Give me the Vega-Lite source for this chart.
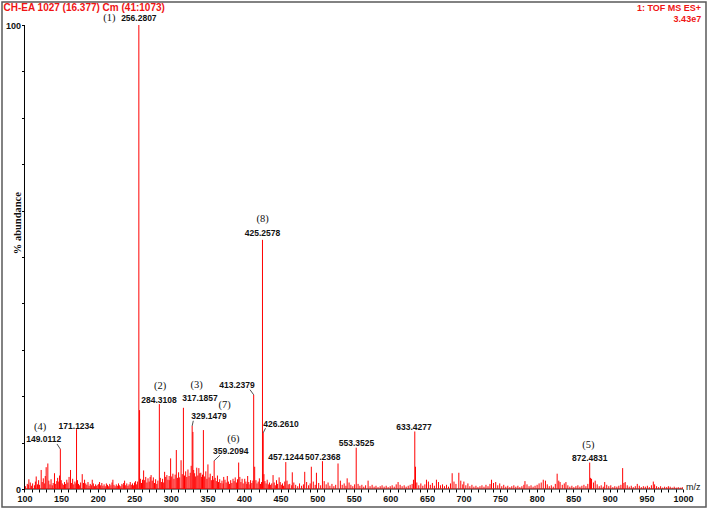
{
 "$schema": "https://vega.github.io/schema/vega-lite/v6.json",
 "width": 704, "height": 505,
 "autosize": {"type": "none"},
 "padding": {"left": 2, "top": 2, "right": 2, "bottom": 2},
 "background": "white",
 "config": {"view": {"stroke": "#5a5a5a", "strokeWidth": 1.5}},
 "datasets": {
  "axisline": [{"m":100,"a":0,"m2":1000,"a2":0},{"m":100,"a":0,"m2":100,"a2":100}],
  "peaks": [
   {"m":256.2807,"a":100},{"m":257.28,"a":17},{"m":425.2578,"a":53.7},{"m":413.2379,"a":20.3},{"m":284.3108,"a":18.3},{"m":317.1857,"a":17.5},{"m":329.1479,"a":13.6},{"m":330.15,"a":12.3},{"m":344.5,"a":12.7},{"m":171.1234,"a":12.9},{"m":633.4277,"a":12.4},{"m":426.261,"a":12.1},{"m":553.3525,"a":8.9},{"m":149.0112,"a":8.6},{"m":307.5,"a":8.4},{"m":299.7,"a":6.6},{"m":314.0,"a":6.2},{"m":359.2094,"a":6.1},{"m":507.2368,"a":6.0},{"m":457.1244,"a":5.8},{"m":392.7,"a":5.7},{"m":872.4831,"a":5.7},{"m":131.9,"a":5.5},{"m":528.5,"a":5.5},{"m":350.7,"a":5.3},{"m":634.4,"a":4.8},{"m":414.6,"a":4.8},{"m":129.6,"a":4.7},{"m":917.5,"a":4.5},{"m":492.0,"a":4.8},{"m":262.8,"a":4.0},{"m":122.8,"a":4.1},{"m":162.9,"a":4.1},{"m":466.0,"a":3.6},{"m":483.0,"a":3.7},{"m":499.0,"a":3.5},{"m":291.5,"a":3.7},{"m":693.6,"a":3.5},{"m":684.5,"a":3.4},{"m":141.0,"a":3.4},{"m":332.5,"a":3.4},{"m":828.0,"a":3.3},{"m":178.9,"a":3.2},{"m":273.0,"a":3.0},{"m":439.7,"a":3.0},{"m":448.0,"a":2.5},{"m":541.0,"a":2.3},{"m":116.0,"a":2.7},{"m":106.0,"a":2.1},{"m":192.6,"a":2.0},{"m":220.8,"a":2.0},{"m":202.6,"a":1.5},{"m":236.8,"a":1.8},{"m":251.8,"a":1.7},{"m":569.6,"a":1.8},{"m":649.4,"a":2.0},{"m":663.0,"a":2.0},{"m":700.5,"a":1.6},{"m":738.3,"a":2.0},{"m":744.0,"a":1.5},{"m":784.0,"a":1.7},{"m":809.0,"a":2.0},{"m":812.0,"a":1.8},{"m":832.0,"a":1.5},{"m":840.0,"a":1.5},{"m":875.0,"a":2.2},{"m":880.0,"a":1.8},{"m":893.0,"a":1.5},{"m":921.0,"a":1.5},{"m":937.5,"a":1.1},{"m":959.4,"a":1.6},{"m":980.0,"a":0.6},{"m":338.3,"a":4.5},{"m":341.0,"a":3.5},{"m":372.3,"a":2.6},{"m":377.2,"a":2.8},{"m":385.0,"a":2.2},{"m":388.0,"a":2.5},{"m":401.0,"a":2.2},{"m":405.0,"a":2.8},{"m":409.0,"a":1.9},{"m":421.0,"a":2.3},{"m":427.26,"a":3.2},
   {"m":101.3,"a":0.6},{"m":103.8,"a":1.1},{"m":105.2,"a":0.9},{"m":107.9,"a":1.4},{"m":109.4,"a":0.7},{"m":111.1,"a":1.2},{"m":113.6,"a":0.8},{"m":114.9,"a":1.6},{"m":117.8,"a":1.0},{"m":119.3,"a":1.9},{"m":120.6,"a":0.9},{"m":124.2,"a":1.5},{"m":125.7,"a":2.3},{"m":127.1,"a":1.2},{"m":128.4,"a":2.8},{"m":133.2,"a":1.8},{"m":134.8,"a":1.0},{"m":136.3,"a":2.1},{"m":137.9,"a":0.8},{"m":139.2,"a":1.3},{"m":142.6,"a":1.1},{"m":144.1,"a":1.7},{"m":145.3,"a":2.4},{"m":146.8,"a":1.6},{"m":147.9,"a":2.9},{"m":150.2,"a":1.9},{"m":151.6,"a":1.2},{"m":153.1,"a":0.9},{"m":154.7,"a":1.5},{"m":156.2,"a":1.1},{"m":157.8,"a":2.0},{"m":159.3,"a":1.4},{"m":160.9,"a":2.6},{"m":164.4,"a":1.3},{"m":165.8,"a":2.2},{"m":167.3,"a":1.0},{"m":168.9,"a":1.6},{"m":170.2,"a":1.2},{"m":172.4,"a":1.9},{"m":173.8,"a":1.1},{"m":175.3,"a":0.8},{"m":176.7,"a":1.4},{"m":180.6,"a":1.3},{"m":182.1,"a":2.0},{"m":183.7,"a":1.2},{"m":185.2,"a":0.9},{"m":186.8,"a":1.5},{"m":188.3,"a":0.7},{"m":189.9,"a":1.1},{"m":191.4,"a":0.8},{"m":194.1,"a":1.2},{"m":195.6,"a":0.6},{"m":197.2,"a":1.0},{"m":198.7,"a":0.7},{"m":200.3,"a":0.9},{"m":201.5,"a":1.1},{"m":204.1,"a":0.8},{"m":205.7,"a":1.3},{"m":207.2,"a":0.7},{"m":208.8,"a":1.0},{"m":210.3,"a":0.6},{"m":211.9,"a":1.2},{"m":213.4,"a":0.9},{"m":215.0,"a":0.6},{"m":216.5,"a":1.1},{"m":218.1,"a":0.8},{"m":219.6,"a":1.4},{"m":222.3,"a":0.9},{"m":223.8,"a":0.6},{"m":225.4,"a":1.0},{"m":226.9,"a":0.7},{"m":228.5,"a":1.2},{"m":230.0,"a":0.8},{"m":231.6,"a":0.6},{"m":233.1,"a":1.1},{"m":234.7,"a":0.9},{"m":235.6,"a":1.3},{"m":238.3,"a":0.8},{"m":239.8,"a":1.2},{"m":241.4,"a":0.7},{"m":242.9,"a":1.0},{"m":244.5,"a":1.5},{"m":246.0,"a":0.9},{"m":247.6,"a":1.2},{"m":249.1,"a":0.8},{"m":250.4,"a":1.4},{"m":253.3,"a":1.0},{"m":254.6,"a":1.6},{"m":258.4,"a":2.2},{"m":259.9,"a":1.3},{"m":261.3,"a":2.0},{"m":264.2,"a":1.9},{"m":265.7,"a":2.6},{"m":267.3,"a":1.4},{"m":268.8,"a":2.3},{"m":270.4,"a":1.6},{"m":271.7,"a":2.6},{"m":274.6,"a":1.8},{"m":276.1,"a":2.5},{"m":277.7,"a":1.3},{"m":279.2,"a":2.1},{"m":280.8,"a":1.1},{"m":282.3,"a":1.8},{"m":285.6,"a":2.4},{"m":287.1,"a":1.5},{"m":288.7,"a":2.2},{"m":290.2,"a":1.4},{"m":293.0,"a":2.6},{"m":294.6,"a":3.0},{"m":296.1,"a":2.0},{"m":297.7,"a":2.8},{"m":298.6,"a":1.9},{"m":301.2,"a":2.7},{"m":302.8,"a":3.3},{"m":304.3,"a":2.2},{"m":305.9,"a":3.1},{"m":309.0,"a":2.4},{"m":310.6,"a":3.6},{"m":312.1,"a":2.5},{"m":315.6,"a":3.2},{"m":318.7,"a":2.9},{"m":320.3,"a":3.8},{"m":321.8,"a":2.6},{"m":323.4,"a":4.2},{"m":324.9,"a":2.8},{"m":326.5,"a":3.5},{"m":327.8,"a":5.0},{"m":331.2,"a":4.1},{"m":333.9,"a":2.7},{"m":335.4,"a":4.6},{"m":336.9,"a":2.9},{"m":339.6,"a":3.4},{"m":342.1,"a":2.6},{"m":343.3,"a":3.1},{"m":346.2,"a":2.7},{"m":347.8,"a":3.8},{"m":349.3,"a":2.2},{"m":352.3,"a":2.5},{"m":353.8,"a":3.3},{"m":355.4,"a":1.9},{"m":356.9,"a":2.8},{"m":358.1,"a":2.0},{"m":360.6,"a":2.4},{"m":362.1,"a":1.7},{"m":363.7,"a":2.9},{"m":365.2,"a":1.5},{"m":366.8,"a":2.1},{"m":368.3,"a":1.3},{"m":369.9,"a":1.8},{"m":371.4,"a":1.2},{"m":374.0,"a":2.0},{"m":375.6,"a":1.4},{"m":378.7,"a":1.6},{"m":380.3,"a":1.1},{"m":381.8,"a":1.9},{"m":383.4,"a":1.3},{"m":386.5,"a":1.7},{"m":389.6,"a":1.4},{"m":391.1,"a":2.1},{"m":394.3,"a":2.6},{"m":395.8,"a":1.5},{"m":397.4,"a":2.2},{"m":398.9,"a":1.2},{"m":402.6,"a":1.6},{"m":403.8,"a":1.1},{"m":406.5,"a":1.5},{"m":408.1,"a":1.0},{"m":410.7,"a":1.3},{"m":412.2,"a":1.8},{"m":416.3,"a":1.9},{"m":417.8,"a":1.2},{"m":419.4,"a":1.6},{"m":422.5,"a":1.1},{"m":424.0,"a":1.5},{"m":428.6,"a":1.7},{"m":430.2,"a":1.2},{"m":431.7,"a":2.0},{"m":433.3,"a":1.0},{"m":434.8,"a":1.4},{"m":436.4,"a":0.9},{"m":437.9,"a":1.2},{"m":441.3,"a":1.4},{"m":442.8,"a":0.8},{"m":444.4,"a":1.9},{"m":445.9,"a":1.1},{"m":449.5,"a":1.5},{"m":451.0,"a":0.9},{"m":452.6,"a":1.2},{"m":454.1,"a":0.7},{"m":455.7,"a":1.6},{"m":458.8,"a":1.8},{"m":460.4,"a":1.0},
   {"m":462.5,"a":1.1},{"m":465.2,"a":0.8},{"m":468.1,"a":1.4},{"m":470.6,"a":0.9},{"m":473.4,"a":0.6},{"m":475.9,"a":1.2},{"m":478.7,"a":0.7},{"m":481.2,"a":1.0},{"m":485.6,"a":1.5},{"m":488.3,"a":0.8},{"m":490.4,"a":1.2},{"m":494.7,"a":1.6},{"m":497.3,"a":0.9},{"m":502.1,"a":1.3},{"m":504.8,"a":0.8},{"m":509.6,"a":1.7},{"m":512.3,"a":1.0},{"m":514.9,"a":1.4},{"m":517.4,"a":0.7},{"m":520.2,"a":1.1},{"m":522.8,"a":0.6},{"m":525.3,"a":0.9},{"m":531.7,"a":1.8},{"m":534.2,"a":0.9},{"m":536.9,"a":1.2},{"m":539.3,"a":0.7},{"m":543.6,"a":1.4},{"m":546.1,"a":0.9},{"m":548.7,"a":0.6},{"m":551.2,"a":1.0},{"m":555.9,"a":1.1},{"m":558.4,"a":0.7},{"m":561.1,"a":0.9},{"m":563.7,"a":0.5},{"m":566.2,"a":0.8},{"m":572.3,"a":0.6},{"m":575.1,"a":0.9},{"m":577.8,"a":0.5},{"m":580.4,"a":0.7},{"m":583.2,"a":0.4},{"m":586.1,"a":0.6},{"m":588.7,"a":0.8},{"m":591.5,"a":0.5},{"m":594.3,"a":0.7},{"m":597.0,"a":0.4},{"m":599.8,"a":0.6},{"m":602.5,"a":0.8},{"m":605.3,"a":0.5},{"m":608.0,"a":1.0},{"m":610.6,"a":1.5},{"m":613.4,"a":0.9},{"m":616.1,"a":0.6},{"m":618.9,"a":0.8},{"m":621.6,"a":0.5},{"m":624.4,"a":0.7},{"m":627.1,"a":0.9},{"m":629.8,"a":1.1},{"m":631.6,"a":2.0},{"m":636.2,"a":1.4},{"m":638.9,"a":0.8},{"m":641.7,"a":1.2},{"m":644.4,"a":0.7},{"m":647.2,"a":1.0},{"m":652.0,"a":1.6},{"m":654.7,"a":0.9},{"m":657.5,"a":1.3},{"m":660.2,"a":0.7},{"m":665.8,"a":1.5},{"m":668.5,"a":0.8},{"m":671.3,"a":1.0},{"m":674.0,"a":0.6},{"m":676.8,"a":0.9},{"m":679.5,"a":0.5},{"m":682.2,"a":1.2},{"m":687.0,"a":1.6},{"m":689.7,"a":1.1},{"m":696.3,"a":1.8},{"m":699.0,"a":1.0},{"m":703.2,"a":0.8},{"m":706.0,"a":1.2},{"m":708.7,"a":0.6},{"m":711.5,"a":0.9},{"m":714.2,"a":0.5},{"m":717.0,"a":0.7},{"m":719.7,"a":0.4},{"m":722.5,"a":0.6},{"m":725.2,"a":0.8},{"m":728.0,"a":0.5},{"m":730.7,"a":0.9},{"m":733.5,"a":0.6},{"m":736.2,"a":1.1},{"m":741.0,"a":1.3},{"m":746.8,"a":0.8},{"m":749.5,"a":1.2},{"m":752.3,"a":0.6},{"m":755.0,"a":0.9},{"m":757.8,"a":0.5},{"m":760.5,"a":0.7},{"m":763.3,"a":0.4},{"m":766.0,"a":0.6},{"m":768.8,"a":0.8},{"m":771.5,"a":0.5},{"m":774.3,"a":0.7},{"m":777.0,"a":0.4},{"m":779.8,"a":0.6},{"m":782.5,"a":0.9},{"m":786.8,"a":1.0},{"m":789.6,"a":0.6},{"m":792.3,"a":0.8},{"m":795.1,"a":0.5},{"m":797.8,"a":0.7},{"m":800.6,"a":0.9},{"m":803.3,"a":1.2},{"m":806.2,"a":1.4},{"m":814.5,"a":1.0},{"m":817.2,"a":0.6},{"m":820.0,"a":0.8},{"m":822.7,"a":0.5},{"m":825.5,"a":1.1},{"m":830.2,"a":1.8},{"m":835.0,"a":0.9},{"m":837.7,"a":1.2},{"m":842.6,"a":0.8},{"m":845.3,"a":0.5},{"m":848.1,"a":0.7},{"m":850.8,"a":0.4},{"m":853.6,"a":0.6},{"m":856.3,"a":0.8},{"m":859.1,"a":0.5},{"m":861.8,"a":0.7},{"m":864.6,"a":0.9},{"m":867.3,"a":0.6},{"m":869.9,"a":1.1},{"m":873.5,"a":2.4},{"m":877.6,"a":1.4},{"m":882.7,"a":1.0},{"m":885.5,"a":0.6},{"m":888.2,"a":0.8},{"m":891.0,"a":0.5},{"m":895.8,"a":0.9},{"m":898.6,"a":0.6},{"m":901.3,"a":0.8},{"m":904.1,"a":0.4},{"m":906.8,"a":0.6},{"m":909.6,"a":0.5},{"m":912.3,"a":0.7},{"m":915.1,"a":0.9},{"m":919.2,"a":1.3},{"m":923.8,"a":0.8},{"m":926.5,"a":0.5},{"m":929.3,"a":0.7},{"m":932.0,"a":0.4},{"m":934.8,"a":0.6},{"m":940.3,"a":0.7},{"m":943.0,"a":0.4},{"m":945.8,"a":0.6},{"m":948.5,"a":0.5},{"m":951.3,"a":0.7},{"m":954.0,"a":0.4},{"m":956.8,"a":0.8},{"m":961.2,"a":1.0},{"m":963.9,"a":0.6},{"m":966.7,"a":0.4},{"m":969.4,"a":0.6},{"m":972.2,"a":0.3},{"m":974.9,"a":0.5},{"m":977.7,"a":0.4},{"m":982.5,"a":0.5},{"m":985.3,"a":0.3},{"m":988.0,"a":0.5},{"m":990.8,"a":0.3},{"m":993.5,"a":0.4},{"m":996.3,"a":0.3},{"m":999.0,"a":0.4}
  ],
  "leaders": [
   {"m":144.4,"a":9.7,"m2":149.01,"a2":8.6},
   {"m":330.7,"a":14.7,"m2":329.15,"a2":13.6},
   {"m":408.2,"a":21.4,"m2":413.24,"a2":20.3},
   {"m":429.4,"a":13.1,"m2":426.26,"a2":12.1},
   {"m":367.2,"a":7.3,"m2":359.21,"a2":6.1}
  ],
  "numlabels": [
   {"m":256.3,"a":101.51,"t":"256.2807"},
   {"m":425.3,"a":55.1,"t":"425.2578"},
   {"m":283.8,"a":19.2,"t":"284.3108"},
   {"m":339.9,"a":19.7,"t":"317.1857"},
   {"m":352.2,"a":15.7,"t":"329.1479"},
   {"m":390.4,"a":22.4,"t":"413.2379"},
   {"m":450.6,"a":14.0,"t":"426.2610"},
   {"m":126.2,"a":10.7,"t":"149.0112"},
   {"m":170.8,"a":13.6,"t":"171.1234"},
   {"m":381.8,"a":8.25,"t":"359.2094"},
   {"m":457.4,"a":6.83,"t":"457.1244"},
   {"m":507.6,"a":6.83,"t":"507.2368"},
   {"m":553.8,"a":9.85,"t":"553.3525"},
   {"m":632.3,"a":13.4,"t":"633.4277"},
   {"m":872.5,"a":6.6,"t":"872.4831"}
  ],
  "parlabels": [
   {"m":216.0,"a":101.51,"t":"(1)"},
   {"m":425.3,"a":58.2,"t":"(8)"},
   {"m":285.2,"a":22.2,"t":"(2)"},
   {"m":335.3,"a":22.4,"t":"(3)"},
   {"m":373.5,"a":18.0,"t":"(7)"},
   {"m":121.2,"a":13.4,"t":"(4)"},
   {"m":385.4,"a":10.7,"t":"(6)"},
   {"m":870.6,"a":9.48,"t":"(5)"}
  ],
  "headleft": [{"m":71.3,"a":103.77,"t":"CH-EA 1027 (16.377) Cm (41:1073)"}],
  "headright": [{"m":1024.6,"a":103.66,"t":"1: TOF MS ES+"},{"m":1024.8,"a":101.19,"t":"3.43e7"}],
  "mzlabel": [{"m":1004.1,"a":0.43,"t":"m/z"}],
  "ytitle": [{"m":91.8,"a":57.3,"t":"% abundance"}]
 },
 "encoding": {
  "x": {"field": "m", "type": "quantitative",
   "scale": {"domain": [69.25, 1031.43], "nice": false, "zero": false},
   "axis": {"orient": "bottom", "offset": -18, "domain": false, "grid": false, "title": null,
    "values": [100,110,120,130,140,150,160,170,180,190,200,210,220,230,240,250,260,270,280,290,300,310,320,330,340,350,360,370,380,390,400,410,420,430,440,450,460,470,480,490,500,510,520,530,540,550,560,570,580,590,600,610,620,630,640,650,660,670,680,690,700,710,720,730,740,750,760,770,780,790,800,810,820,830,840,850,860,870,880,890,900,910,920,930,940,950,960,970,980,990,1000],
    "format": "d",
    "labelExpr": "datum.value % 50 === 0 ? datum.label : ''",
    "labelOverlap": false, "labelFlush": false,
    "tickSize": 3, "tickColor": "#000", "tickWidth": 1,
    "labelFont": "Liberation Sans", "labelFontSize": 9, "labelFontWeight": "bold", "labelColor": "#111", "labelPadding": 2}},
  "y": {"field": "a", "type": "quantitative",
   "scale": {"domain": [-3.879, 104.957], "nice": false, "zero": false},
   "axis": {"orient": "left", "offset": -22.5, "domain": false, "grid": false, "title": null,
    "values": [0,10,20,30,40,50,60,70,80,90,100],
    "labelExpr": "datum.value === 0 || datum.value === 100 ? datum.label : ''",
    "labelOverlap": false, "labelFlush": false,
    "tickSize": 3, "tickColor": "#000", "tickWidth": 1,
    "labelFont": "Liberation Sans", "labelFontSize": 9, "labelFontWeight": "bold", "labelColor": "#111", "labelPadding": 1}}
 },
 "layer": [
  {"data": {"name": "axisline"}, "mark": {"type": "rule", "color": "#000", "strokeWidth": 1},
   "encoding": {"x2": {"field": "m2"}, "y2": {"field": "a2"}}},
  {"data": {"name": "peaks"}, "mark": {"type": "rule", "color": "#ff0000", "strokeWidth": 1},
   "encoding": {"y2": {"datum": 0}}},
  {"data": {"name": "leaders"}, "mark": {"type": "rule", "color": "#222", "strokeWidth": 0.8},
   "encoding": {"x2": {"field": "m2"}, "y2": {"field": "a2"}}},
  {"data": {"name": "numlabels"}, "mark": {"type": "text", "font": "Liberation Sans", "fontSize": 8.5, "fontWeight": "bold", "color": "#111", "align": "center", "baseline": "middle"},
   "encoding": {"text": {"field": "t"}}},
  {"data": {"name": "parlabels"}, "mark": {"type": "text", "font": "Liberation Serif", "fontSize": 10.5, "color": "#111", "align": "center", "baseline": "middle"},
   "encoding": {"text": {"field": "t"}}},
  {"data": {"name": "headleft"}, "mark": {"type": "text", "font": "Liberation Sans", "fontSize": 10, "fontWeight": "bold", "color": "#f01414", "align": "left", "baseline": "middle"},
   "encoding": {"text": {"field": "t"}}},
  {"data": {"name": "headright"}, "mark": {"type": "text", "font": "Liberation Sans", "fontSize": 9, "fontWeight": "bold", "color": "#f01414", "align": "right", "baseline": "middle"},
   "encoding": {"text": {"field": "t"}}},
  {"data": {"name": "mzlabel"}, "mark": {"type": "text", "font": "Liberation Sans", "fontSize": 9, "color": "#111", "align": "left", "baseline": "middle"},
   "encoding": {"text": {"field": "t"}}},
  {"data": {"name": "ytitle"}, "mark": {"type": "text", "font": "Liberation Serif", "fontSize": 10.5, "fontWeight": "bold", "color": "#111", "align": "center", "baseline": "middle", "angle": 270},
   "encoding": {"text": {"field": "t"}}}
 ]
}
